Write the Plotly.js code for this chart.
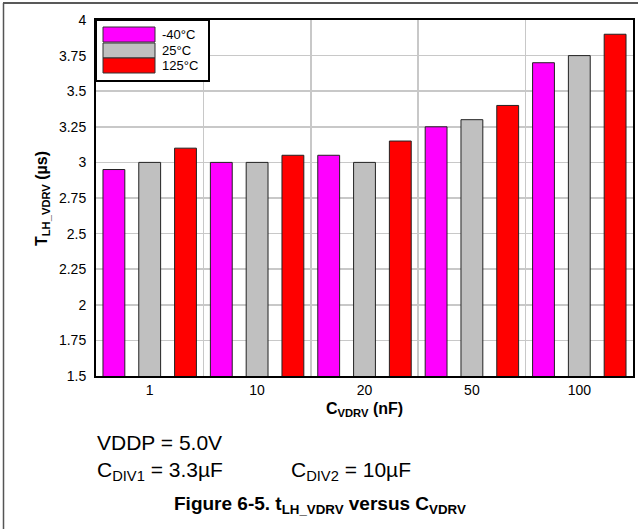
<!DOCTYPE html>
<html>
<head>
<meta charset="utf-8">
<script src="https://cdn.plot.ly/plotly-3.0.1.min.js"></script>
<style>
  html, body { margin: 0; padding: 0; background: #fff; }
  #chart { width: 638px; height: 529px; }
</style>
</head>
<body>
<div id="chart"></div>
<script>
// ---- data ----
const categories = ['1', '10', '20', '50', '100'];
const seriesNames = ['-40°C', '25°C', '125°C'];
const tMinus40 = [2.95, 3.00, 3.05, 3.25, 3.70];
const t25 = [3.00, 3.00, 3.00, 3.30, 3.75];
const t125 = [3.10, 3.05, 3.15, 3.40, 3.90];
const seriesColors = ['#FF00FF', '#C0C0C0', '#FF0000'];
const yTitle = 'T<sub>LH_VDRV</sub> (µs)';
const xTitle = 'C<sub>VDRV</sub> (nF)';
const note1 = 'VDDP = 5.0V';
const note2 = 'C<sub>DIV1</sub> = 3.3µF';
const note3 = 'C<sub>DIV2</sub> = 10µF';
const caption = 'Figure 6-5. t<sub>LH_VDRV</sub> versus C<sub>VDRV</sub>';

const seriesValues = [tMinus40, t25, t125];

// ---- layout helpers (pixel -> paper) ----
const W = 638, H = 529;
const L = 96, R = 5, T = 20, B = 153;
const pw = W - L - R, ph = H - T - B;
const px = x => (x - L) / pw;
const py = y => (H - B - y) / ph;

const FONT = 'Liberation Sans, Arial, Helvetica, sans-serif';

const traces = seriesNames.map((name, i) => ({
  type: 'bar',
  name: name,
  x: categories,
  y: seriesValues[i],
  marker: { color: seriesColors[i], line: { color: '#222222', width: 1 } },
  showlegend: false,
  hoverinfo: 'x+y+name'
}));

const shapes = [];
const annotations = [];

// legend box
shapes.push({ type: 'rect', xref: 'paper', yref: 'paper',
  x0: px(96), x1: px(209), y0: py(81), y1: py(20),
  fillcolor: '#ffffff', line: { color: '#000000', width: 2 }, layer: 'above' });
const rowTops = [27, 43, 58];
const rowH = 15;
seriesNames.forEach((name, i) => {
  shapes.push({ type: 'rect', xref: 'paper', yref: 'paper',
    x0: px(103), x1: px(155), y0: py(rowTops[i] + rowH), y1: py(rowTops[i]),
    fillcolor: seriesColors[i], line: { color: '#333333', width: 1 }, layer: 'above' });
  annotations.push({ xref: 'paper', yref: 'paper', x: px(160), y: py(rowTops[i] + rowH / 2),
    xanchor: 'left', yanchor: 'middle', showarrow: false, text: name,
    font: { family: FONT, size: 13, color: '#000' } });
});

// outer frame lines
shapes.push({ type: 'line', xref: 'paper', yref: 'paper',
  x0: px(3), x1: px(638), y0: py(3), y1: py(3), line: { color: '#222', width: 1.5 } });
shapes.push({ type: 'line', xref: 'paper', yref: 'paper',
  x0: px(3.5), x1: px(3.5), y0: py(3), y1: py(529), line: { color: '#555', width: 1.5 } });

// axis titles
annotations.push({ xref: 'paper', yref: 'paper', x: px(42), y: py(199), textangle: -90,
  xanchor: 'center', yanchor: 'middle', showarrow: false, text: '<b>' + yTitle + '</b>',
  font: { family: FONT, size: 16, color: '#000' } });
annotations.push({ xref: 'paper', yref: 'paper', x: px(364), y: py(409),
  xanchor: 'center', yanchor: 'middle', showarrow: false, text: '<b>' + xTitle + '</b>',
  font: { family: FONT, size: 16, color: '#000' } });

// notes
annotations.push({ xref: 'paper', yref: 'paper', x: px(95), y: py(442),
  xanchor: 'left', yanchor: 'middle', showarrow: false, text: note1,
  font: { family: FONT, size: 21, color: '#000' } });
annotations.push({ xref: 'paper', yref: 'paper', x: px(95), y: py(471),
  xanchor: 'left', yanchor: 'middle', showarrow: false, text: note2,
  font: { family: FONT, size: 21, color: '#000' } });
annotations.push({ xref: 'paper', yref: 'paper', x: px(289), y: py(471),
  xanchor: 'left', yanchor: 'middle', showarrow: false, text: note3,
  font: { family: FONT, size: 21, color: '#000' } });
annotations.push({ xref: 'paper', yref: 'paper', x: px(320), y: py(505),
  xanchor: 'center', yanchor: 'middle', showarrow: false, text: '<b>' + caption + '</b>',
  font: { family: FONT, size: 19, color: '#000' } });

const layout = {
  width: W, height: H,
  margin: { l: L, r: R, t: T, b: B, pad: 0 },
  paper_bgcolor: '#ffffff', plot_bgcolor: '#ffffff',
  barmode: 'group', bargap: 0, bargroupgap: 0.39,
  font: { family: FONT, size: 14, color: '#000' },
  xaxis: {
    type: 'category', tickson: 'boundaries',
    showgrid: true, gridcolor: '#c8c8c8', gridwidth: 1.5,
    showline: true, linecolor: '#000', linewidth: 2, mirror: true,
    ticks: 'outside', ticklen: 6, tickcolor: 'rgba(0,0,0,0)',
    tickfont: { family: FONT, size: 14, color: '#000' },
    zeroline: false, fixedrange: true
  },
  yaxis: {
    range: [1.5, 4], dtick: 0.25, tick0: 1.5,
    showgrid: true, gridcolor: '#c8c8c8', gridwidth: 1.5,
    showline: true, linecolor: '#000', linewidth: 2, mirror: true,
    ticks: 'outside', ticklen: 5, tickcolor: 'rgba(0,0,0,0)',
    tickfont: { family: FONT, size: 14, color: '#000' },
    zeroline: false, fixedrange: true
  },
  shapes: shapes,
  annotations: annotations
};

Plotly.newPlot('chart', traces, layout, { displayModeBar: false, staticPlot: true });
</script>
</body>
</html>
